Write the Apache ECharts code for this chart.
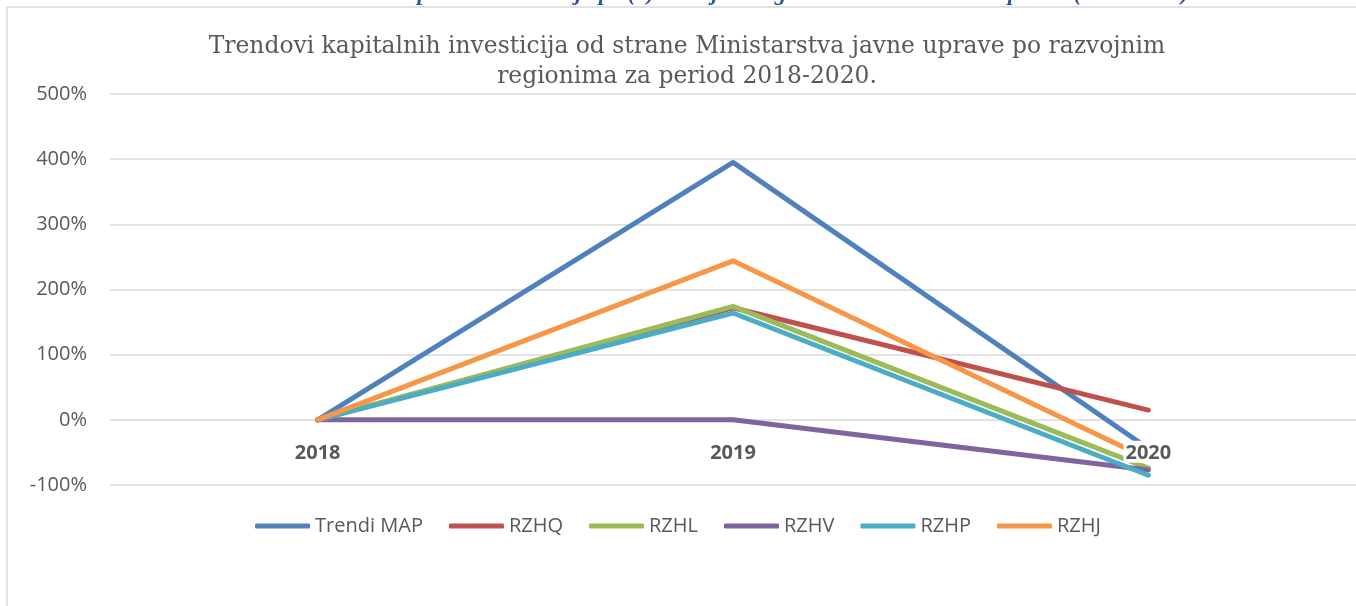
<!DOCTYPE html>
<html>
<head>
<meta charset="utf-8">
<script src="https://cdn.jsdelivr.net/npm/echarts@6/dist/echarts.min.js"></script>
<style>
  html, body { margin: 0; padding: 0; background: #fff; }
  #chart { width: 1356px; height: 606px; }
</style>
</head>
<body>
<div id="chart"></div>
<script>
// values, in percent
const years = ['2018', '2019', '2020']
const trendiMap = [0, 395, -44]
const rzhq = [0, 172, 15]
const rzhl = [0, 174, -74]
const rzhv = [0, 0, -77]
const rzhp = [0, 164, -85]
const rzhj = [0, 244, -60]

const seriesNames = ['Trendi MAP', 'RZHQ', 'RZHL', 'RZHV', 'RZHP', 'RZHJ']
const seriesData = [trendiMap, rzhq, rzhl, rzhv, rzhp, rzhj]
const colors = ['#4F81BD', '#C0504D', '#9BBB59', '#8064A2', '#4BACC6', '#F79646']

const axisFont = '"Open Sans", "Noto Sans", sans-serif'
const gridTop = 94
const gridBottom = 121
const yMin = -100
const yMax = 500
// the category axis sits on the 0% line, so lift it from the grid bottom
const plotHeight = 606 - gridTop - gridBottom
const zeroOffset = plotHeight * (0 - yMin) / (yMax - yMin)

const myChart = echarts.init(document.getElementById('chart'))
myChart.setOption({
  animation: false,
  color: colors,
  title: {
    text: 'Trendovi kapitalnih investicija od strane Ministarstva javne uprave po razvojnim\nregionima za period 2018-2020.',
    left: 682,
    top: 27,
    textAlign: 'center',
    textStyle: {
      fontFamily: '"DejaVu Serif", serif',
      fontSize: 23.4,
      fontWeight: 'normal',
      color: '#595959',
      lineHeight: 30
    }
  },
  graphic: [{
    type: 'rect',
    shape: { x: 7, y: 7, width: 1400, height: 700 },
    style: { fill: 'none', stroke: '#d9d9d9', lineWidth: 1.5 },
    silent: true
  }, {
    // caption above the chart, mostly cut off by the crop
    type: 'text',
    x: 701,
    y: -17,
    style: {
      text: 'Slika 10: Trendovi kapitalnih investicija po (6) razvojnih regiona od strane MJU za period (2018-2020)',
      fill: '#2F5597',
      font: 'italic bold 23px "Liberation Serif", serif',
      textAlign: 'center'
    },
    silent: true
  }],
  legend: {
    data: seriesNames,
    left: 'center',
    top: 511,
    icon: 'roundRect',
    itemWidth: 55,
    itemHeight: 5,
    itemGap: 26,
    textStyle: {
      fontFamily: axisFont,
      fontSize: 20,
      color: '#595959'
    }
  },
  grid: {
    left: 110,
    right: -2,
    top: gridTop,
    bottom: gridBottom,
    containLabel: false
  },
  xAxis: {
    type: 'category',
    data: years,
    boundaryGap: true,
    z: 10,
    offset: -zeroOffset,
    axisLine: { show: false, onZero: false },
    axisTick: { show: false },
    splitLine: { show: false },
    axisLabel: {
      margin: 21,
      fontFamily: axisFont,
      fontSize: 20,
      fontWeight: 'bold',
      color: '#595959',
      backgroundColor: '#fff',
      padding: [2, 2, 0, 2]
    }
  },
  yAxis: {
    type: 'value',
    min: yMin,
    max: yMax,
    interval: 100,
    axisLine: { show: false },
    axisTick: { show: false },
    axisLabel: {
      formatter: '{value}%',
      margin: 23,
      fontFamily: axisFont,
      fontSize: 20,
      color: '#595959'
    },
    splitLine: { lineStyle: { color: '#d9d9d9', width: 1.5 } }
  },
  series: seriesNames.map((name, i) => {
    return {
      name: name,
      type: 'line',
      data: seriesData[i],
      symbol: 'none',
      lineStyle: { width: 5, cap: 'round', join: 'round' }
    }
  })
})
</script>
</body>
</html>
